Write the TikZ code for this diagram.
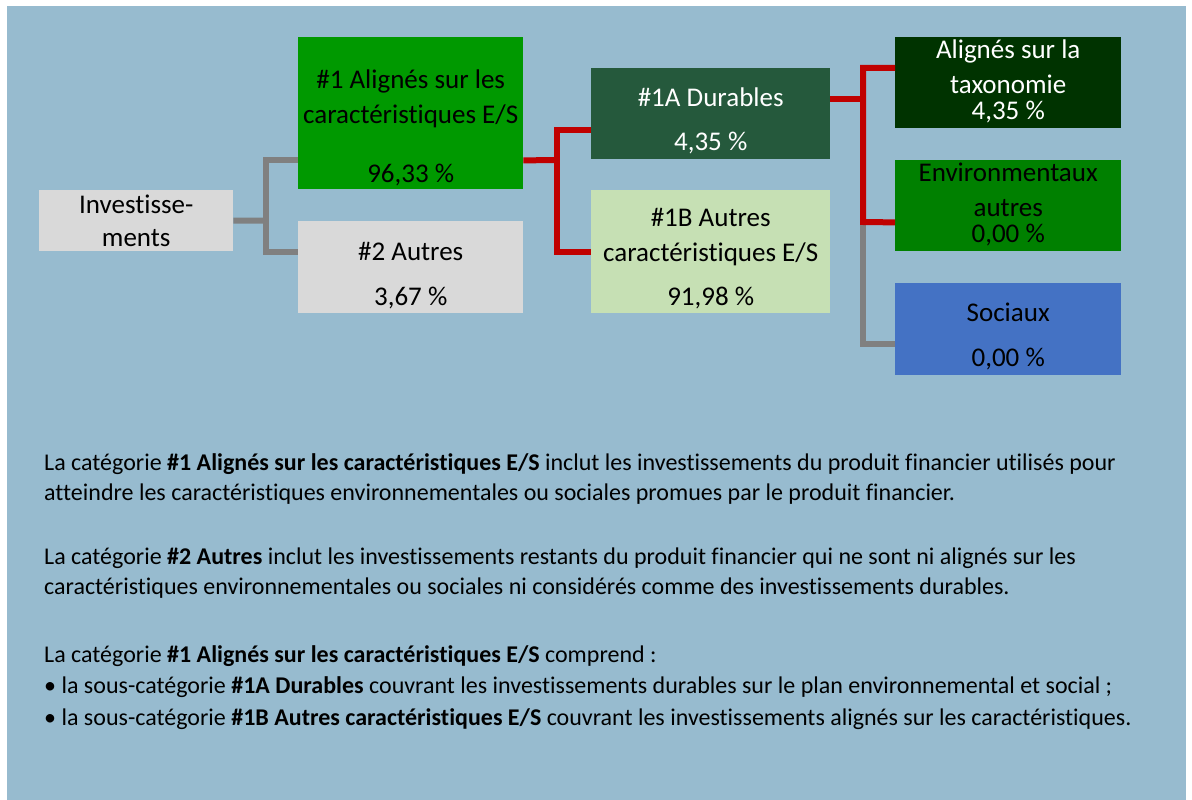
\documentclass[tikz,border=0pt]{standalone}
\usepackage{fontspec}
\setmainfont[Ligatures=NoCommon]{Carlito}
\usetikzlibrary{positioning}
\definecolor{bgblue}{RGB}{151,187,207}
\definecolor{boxgray}{RGB}{217,217,217}
\definecolor{alignedgreen}{RGB}{0,153,0}
\definecolor{durablegreen}{RGB}{37,89,60}
\definecolor{otherslight}{RGB}{198,224,180}
\definecolor{taxogreen}{RGB}{0,51,0}
\definecolor{envgreen}{RGB}{0,128,0}
\definecolor{socialblue}{RGB}{68,114,196}
\definecolor{linkred}{RGB}{192,0,0}
\definecolor{linkgray}{RGB}{128,128,128}

\begin{document}
\begin{tikzpicture}[
    x=1pt, y=-1pt,
    box/.style={rectangle, inner sep=0pt, anchor=north west},
    txt/.style={inner sep=0pt, align=center, anchor=base, font=\fontsize{27}{35}\selectfont},
    rline/.style={linkred, line width=6pt},
    gline/.style={linkgray, line width=6pt}
]
    \fill[white] (0,0) rectangle (1192,800);
    \fill[bgblue] (7,6) rectangle (1186,800);
    \useasboundingbox (0,0) rectangle (1192,800);

    % boxes
    \node[box, fill=boxgray, minimum width=194pt, minimum height=61pt] (inv) at (39,190) {};
    \node[box, fill=alignedgreen, minimum width=225pt, minimum height=152pt] (al) at (298,37) {};
    \node[box, fill=boxgray, minimum width=225pt, minimum height=92pt] (au) at (298,221) {};
    \node[box, fill=durablegreen, minimum width=239pt, minimum height=91pt] (du) at (591,68) {};
    \node[box, fill=otherslight, minimum width=239pt, minimum height=123pt] (ac) at (591,190) {};
    \node[box, fill=taxogreen, minimum width=226pt, minimum height=91pt] (tx) at (895,37) {};
    \node[box, fill=envgreen, minimum width=226pt, minimum height=91pt] (en) at (895,160) {};
    \node[box, fill=socialblue, minimum width=226pt, minimum height=92pt] (so) at (895,283) {};

    % box texts (placed at the baseline of their last line)
    \node[txt] (inv-t) at (inv.north |- 0,246) {Investisse-\\[-2pt]ments};
    \node[txt] (al-t) at (al.north |- 0,182) {\#1 Alignés sur les\\caractéristiques E/S\\[24pt]96,33 \%};
    \node[txt] (au-t) at (au.north |- 0,305) {\#2 Autres\\[10pt]3,67 \%};
    \node[txt, white] (du-t) at (du.north |- 0,150) {\#1A Durables\\[9pt]4,35 \%};
    \node[txt] (ac-t) at (ac.north |- 0,305) {\#1B Autres\\caractéristiques E/S\\[9pt]91,98 \%};
    \node[txt, white] (tx-t) at (tx.north |- 0,119) {Alignés sur la\\taxonomie\\[-9pt]4,35 \%};
    \node[txt] (en-t) at (en.north |- 0,242) {Environmentaux\\autres\\[-9pt]0,00 \%};
    \node[txt] (so-t) at (so.north |- 0,366) {Sociaux\\[10pt]0,00 \%};

    % connectors
    \coordinate (j1) at (266,220.5);
    \coordinate (j2) at (557,160);
    \coordinate (j3) at (863,99);
    \coordinate (j4) at (863,222);
    \draw[gline] (inv.east) -- (j1);
    \draw[gline] ([yshift=29pt]al.south west) -| (j1) |- ([yshift=-31pt]au.north west);
    \draw[rline] ([yshift=29pt]al.south east) -- (j2);
    \draw[rline] ([yshift=29pt]du.south west) -| (j2) |- (ac.west);
    \draw[rline] ([yshift=-31pt]du.north east) -- (j3);
    \draw[gline] (j4) |- ([yshift=31pt]so.south west);
    \draw[rline] ([yshift=-31pt]tx.north west) -| (j4) -- ([yshift=29pt]en.south west);

    % explanation
    \node[inner sep=0pt, anchor=base west, align=left, font=\fontsize{24}{30}\selectfont] (expl) at (44,725) {%
        La catégorie \textbf{\#1 Alignés sur les caractéristiques E/S} inclut les investissements du produit financier utilisés pour\\
        atteindre les caractéristiques environnementales ou sociales promues par le produit financier.\\[34pt]
        La catégorie \textbf{\#2 Autres} inclut les investissements restants du produit financier qui ne sont ni alignés sur les\\
        caractéristiques environnementales ou sociales ni considérés comme des investissements durables.\\[38pt]
        La catégorie \textbf{\#1 Alignés sur les caractéristiques E/S} comprend :\\[1.5pt]
        • la sous-catégorie \textbf{\#1A Durables} couvrant les investissements durables sur le plan environnemental et social ;\\[1.5pt]
        • la sous-catégorie \textbf{\#1B Autres caractéristiques E/S} couvrant les investissements alignés sur les caractéristiques.};
\end{tikzpicture}
\end{document}
